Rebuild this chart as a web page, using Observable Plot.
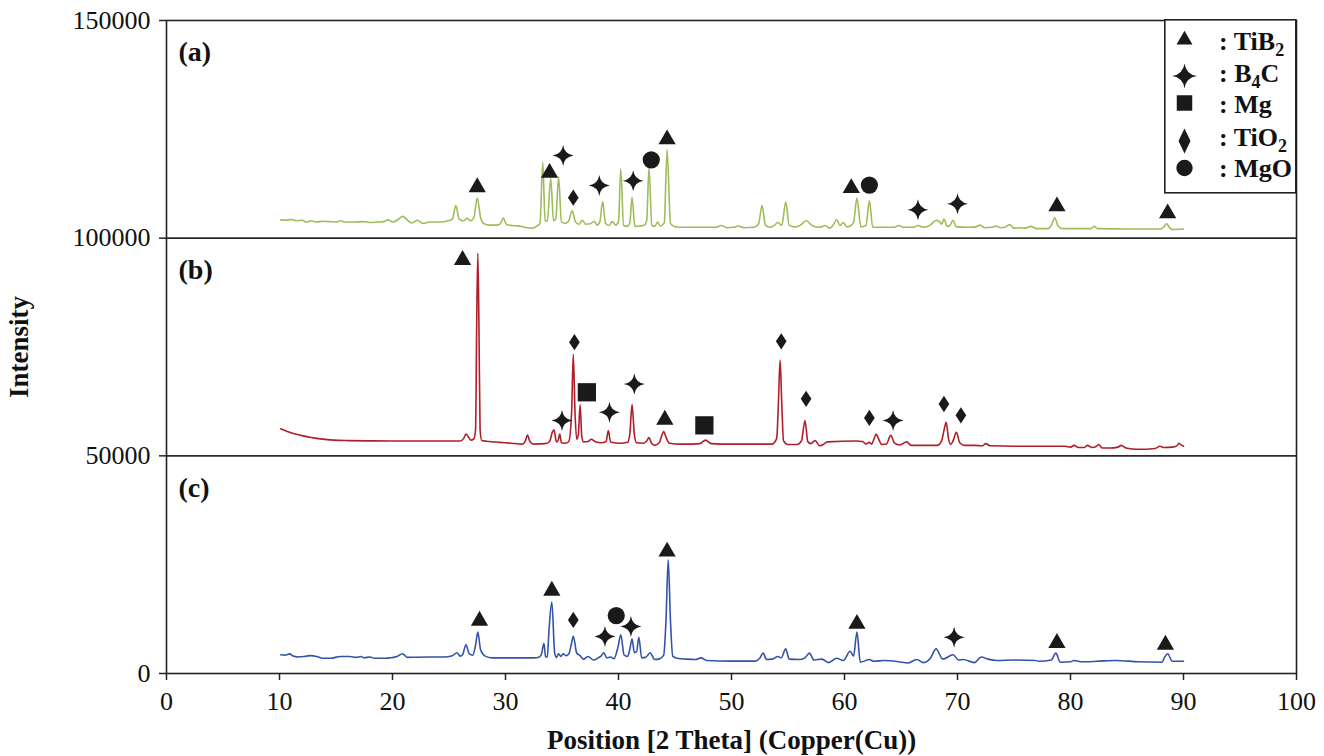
<!DOCTYPE html>
<html>
<head>
<meta charset="utf-8">
<script src="https://cdn.jsdelivr.net/npm/d3@7"></script>
<script src="https://cdn.jsdelivr.net/npm/@observablehq/plot@0.6"></script>
<style>
  html, body { margin: 0; padding: 0; background: #fff; }
  #chart { position: relative; width: 1324px; height: 756px; }
</style>
</head>
<body>
<div id="chart"></div>
<script>
// ---- Axis ticks ----
const xTicks = [0, 10, 20, 30, 40, 50, 60, 70, 80, 90, 100];
const yTicks = [0, 50000, 100000, 150000];
const separators = [50000, 100000];

// ---- Panel labels (placed at the top of each stacked pattern band) ----
const panelNames = ["(a)", "(b)", "(c)"];
const panelTops = [150000, 100000, 50000];

// ---- XRD patterns: [2θ (deg), intensity (counts)] ----
const patternA = [
  [10.1,104200],[10.6,104100],[11.0,104300],[11.5,104000],[12.0,104100],[12.4,103700],[12.8,104000],[13.3,103700],
  [13.8,103900],[14.4,103800],[15.0,103700],[15.4,104000],[15.8,103700],[16.6,103700],[17.4,103800],[18.0,103600],
  [18.6,103700],[19.2,103800],[19.6,104200],[20.0,103700],[20.5,104300],[20.9,105000],[21.3,104200],[21.7,103500],
  [22.2,104100],[22.7,103400],[23.3,103700],[24.2,103700],[24.9,104000],[25.3,104400],[25.6,107500],[25.9,104400],
  [26.3,104000],[26.6,104600],[26.9,104000],[27.2,104700],[27.5,109200],[27.8,104700],[28.1,103300],[28.6,103000],
  [29.2,103000],[29.5,103200],[29.8,104600],[30.1,103100],[30.6,102900],[31.4,102700],[31.9,102400],[32.4,102300],
  [32.8,102800],[33.05,103400],[33.3,117400],[33.5,104000],[33.7,103900],[34.0,113700],[34.25,104000],[34.45,104500],
  [34.7,114000],[34.95,103700],[35.3,103400],[35.6,104000],[35.9,106300],[36.2,103700],[36.5,103200],[36.8,104100],
  [37.1,103200],[37.5,103300],[37.85,103900],[38.1,103000],[38.35,103800],[38.6,108400],[38.85,103400],[39.15,102900],
  [39.45,103800],[39.75,103000],[40.0,103800],[40.2,115900],[40.45,102900],[40.75,102700],[41.0,103500],[41.2,109400],
  [41.45,102700],[41.9,102800],[42.3,103000],[42.5,104200],[42.7,116300],[42.95,103000],[43.2,102700],[43.45,103700],
  [43.7,102800],[44.05,103500],[44.3,120300],[44.6,103400],[44.95,102700],[45.6,102500],[47.0,102500],[48.6,102500],
  [49.1,102900],[49.6,102400],[50.2,102500],[50.6,102800],[51.1,102400],[52.0,102500],[52.4,103300],[52.7,107500],
  [53.0,103000],[53.4,102500],[53.8,103000],[54.1,103600],[54.45,102900],[54.8,108300],[55.1,103000],[55.6,102600],
  [56.1,103000],[56.6,104000],[57.2,102800],[57.8,102500],[58.3,102900],[58.7,102300],[59.0,103000],[59.3,104300],
  [59.6,102900],[59.9,103600],[60.2,102600],[60.5,102800],[60.8,103600],[61.1,109200],[61.45,102600],[61.9,102900],
  [62.2,108600],[62.5,102500],[63.5,102500],[64.4,102500],[64.8,102900],[65.2,102500],[66.1,102500],[66.5,102900],
  [67.0,102500],[67.6,103000],[68.1,104100],[68.45,103700],[68.6,103200],[68.8,104400],[69.1,102700],[69.35,103000],
  [69.6,104100],[69.9,102600],[71.0,102500],[71.6,102600],[72.0,103000],[72.4,102400],[73.0,102500],[73.4,102800],
  [73.8,102400],[74.2,102500],[74.6,103100],[75.0,102300],[75.5,102400],[76.0,102300],[76.5,102700],[77.0,102200],
  [78.0,102200],[78.3,102900],[78.6,104700],[78.9,102800],[79.3,102200],[81.0,102200],[81.8,102200],[82.1,102700],
  [82.4,102200],[85.0,102100],[88.0,102100],[88.25,102600],[88.5,103300],[88.75,102500],[89.0,102000],[90.0,102100]
];

const patternB = [
  [10.1,56200],[11.0,55300],[11.9,54700],[12.8,54200],[13.6,53900],[14.8,53600],[16.0,53500],[20.0,53400],
  [24.0,53400],[26.0,53400],[26.3,54000],[26.5,55000],[26.75,54200],[26.95,53600],[27.2,53900],[27.35,56000],
  [27.45,80000],[27.55,96500],[27.65,80000],[27.75,56000],[27.9,53500],[28.5,53300],[29.5,53100],[30.5,52900],
  [31.5,52700],[31.75,53400],[31.95,54800],[32.15,53300],[32.5,52700],[33.5,52800],[33.9,53300],[34.15,55500],
  [34.3,56000],[34.5,53200],[34.65,53500],[34.8,55000],[34.95,53000],[35.3,52900],[35.6,53300],[35.85,60000],
  [36.0,73300],[36.15,60000],[36.3,53800],[36.45,55000],[36.6,61700],[36.75,54500],[36.9,53200],[37.3,53300],
  [37.6,53800],[37.9,53300],[38.5,53000],[38.9,53300],[39.1,55800],[39.3,53200],[40.2,52900],[40.8,53100],
  [41.0,55000],[41.2,61800],[41.4,55000],[41.6,53000],[42.2,52900],[42.5,53400],[42.7,54200],[42.9,53000],
  [43.2,52400],[43.6,53000],[43.85,54800],[44.0,55600],[44.2,54300],[44.5,52900],[45.5,52700],[46.5,52700],
  [47.2,52800],[47.7,53600],[48.2,52800],[49.0,52700],[52.0,52700],[53.6,52700],[54.0,54000],[54.15,62000],
  [54.3,72000],[54.45,62000],[54.6,53500],[55.0,52600],[55.8,52600],[56.2,53500],[56.5,58100],[56.75,53300],
  [57.0,52800],[57.4,53500],[57.8,52300],[58.1,52600],[58.5,53200],[61.0,53400],[61.6,53300],[61.9,52700],
  [62.2,53100],[62.4,52700],[62.6,53800],[62.8,55000],[63.0,54000],[63.3,52600],[63.7,52700],[64.1,54700],
  [64.4,53000],[64.9,52500],[65.5,53200],[65.9,52400],[67.0,52400],[68.2,52400],[68.6,53500],[68.8,55800],
  [69.0,57700],[69.2,54000],[69.4,52600],[69.6,53400],[69.9,55400],[70.2,53000],[70.6,52400],[71.5,52400],
  [72.2,52300],[72.5,52800],[72.9,52300],[75.0,52200],[78.0,52200],[79.5,52200],[80.0,52000],[80.3,52400],
  [80.7,51900],[81.2,51900],[81.5,52400],[81.9,51900],[82.3,52200],[82.5,52600],[82.8,51800],[83.5,51800],
  [84.2,52000],[84.5,52400],[84.9,51800],[86.0,51500],[87.5,51700],[87.9,52200],[88.3,51900],[89.0,52000],
  [89.4,52300],[89.6,52900],[89.8,52500],[90.0,52200]
];

const patternC = [
  [10.1,4300],[10.5,4200],[10.9,4500],[11.2,4000],[11.6,3800],[12.2,3900],[12.7,4100],[13.3,3900],
  [13.8,3500],[14.5,3500],[15.4,3900],[16.2,3900],[16.8,3700],[17.2,3900],[17.5,3600],[18.0,3800],
  [18.4,3500],[19.4,3500],[19.8,3600],[20.4,3900],[20.9,4550],[21.3,3700],[22.0,3750],[24.5,3800],
  [25.3,4100],[25.7,4750],[26.0,4000],[26.2,4300],[26.5,6600],[26.8,4500],[27.1,4200],[27.35,6500],
  [27.55,9500],[27.8,5400],[28.2,4000],[28.8,3600],[32.5,3600],[33.0,3800],[33.2,4600],[33.4,6960],
  [33.55,3800],[33.7,3800],[33.85,10000],[34.1,16400],[34.35,4800],[34.5,3700],[34.7,4500],[34.9,3900],
  [35.1,4500],[35.35,4100],[35.6,4500],[35.85,7000],[36.0,8570],[36.3,4700],[36.6,4100],[36.9,3300],
  [37.3,3900],[37.8,3100],[38.2,3600],[38.45,4000],[38.7,4750],[38.95,3600],[39.3,3800],[39.6,3400],
  [39.95,6000],[40.2,8890],[40.5,4200],[40.8,3900],[41.0,5500],[41.2,7970],[41.4,4800],[41.6,5000],
  [41.8,8340],[42.05,3600],[42.4,3700],[42.8,4750],[43.2,3200],[43.6,3300],[44.0,4200],[44.2,12000],
  [44.4,26100],[44.6,12000],[44.8,4000],[45.2,3500],[46.0,3300],[46.8,3200],[47.3,3600],[47.8,3000],
  [50.0,2850],[52.1,2850],[52.5,3500],[52.8,4670],[53.1,3200],[53.6,3300],[54.1,3900],[54.4,3600],
  [54.8,5660],[55.1,3300],[56.0,3200],[56.5,3600],[56.9,4670],[57.3,3100],[58.0,3300],[58.6,2500],
  [59.3,3500],[59.9,3000],[60.5,5100],[60.8,4000],[61.1,9500],[61.4,2600],[62.2,3200],[62.6,2800],
  [63.5,3000],[64.8,2700],[65.6,2400],[66.4,3200],[67.0,2500],[67.6,3500],[68.1,5660],[68.7,3300],
  [69.6,4300],[70.1,3100],[70.5,3200],[71.5,2500],[72.1,3800],[72.7,3300],[73.5,3000],[75.0,3100],
  [76.9,3000],[77.2,2800],[78.3,3100],[78.7,4670],[79.1,2600],[80.0,2700],[80.3,3000],[80.9,2700],
  [82.3,2800],[84.0,3000],[86.0,2700],[88.1,2600],[88.3,3600],[88.6,4520],[89.0,2800],[90.0,2800]
];

// ---- Phase identification markers: [2θ, marker height] ----
const tib2Peaks = [
  [27.5,111700],[33.9,115000],[44.3,122700],[60.6,111500],[78.8,107300],[88.6,105700],
  [26.2,95000],[44.1,58300],
  [27.7,12100],[34.1,19000],[44.3,28000],[61.1,11400],[78.8,7000],[88.4,6600]
];
const b4cPeaks = [
  [35.1,119000],[38.3,112100],[41.3,113200],[66.5,106500],[70.0,107900],
  [35.0,58100],[39.2,60000],[41.4,66500],[64.3,58100],
  [38.8,8500],[41.1,10800],[69.7,8340]
];
const mgPeaks = [[37.2,64600],[47.6,57000]];
const tio2Peaks = [
  [36.0,109300],
  [36.1,76100],[54.4,76300],[56.6,63100],[62.2,58700],[68.8,61900],[70.3,59300],
  [36.0,12300]
];
const mgoPeaks = [[42.9,118000],[62.2,112200],[39.8,13300]];

// ---- Legend ----
const legendLabels = ["TiB_2", "B_4C", "Mg", "TiO_2", "MgO"];

// ---- Colours ----
const colorA = "#9dbd5a";
const colorB = "#b01e2a";
const colorC = "#3353a8";
const ink = "#1a1a1a";

// Four-pointed star with concave sides
const star4 = {
  draw(ctx, size) {
    const R = Math.sqrt(size / Math.PI);
    const k = 0.12 * R;
    ctx.moveTo(0, -R);
    ctx.quadraticCurveTo(k, -k, R, 0);
    ctx.quadraticCurveTo(k, k, 0, R);
    ctx.quadraticCurveTo(-k, k, -R, 0);
    ctx.quadraticCurveTo(-k, -k, 0, -R);
    ctx.closePath();
  }
};
// Tall rhombus
const rhombus = {
  draw(ctx, size) {
    const r = Math.sqrt(size / Math.PI);
    const hh = 1.6 * r, hw = 1.05 * r;
    ctx.moveTo(0, -hh);
    ctx.lineTo(hw, 0);
    ctx.lineTo(0, hh);
    ctx.lineTo(-hw, 0);
    ctx.closePath();
  }
};

const px = d => d[0], py = d => d[1];
const lineOpts = c => ({x: px, y: py, stroke: c, strokeWidth: 1.6, curve: "monotone-x", strokeLinejoin: "round"});

const serif = "'Liberation Serif', 'Times New Roman', serif";

const plot = Plot.plot({
  width: 1324,
  height: 756,
  marginLeft: 166,
  marginRight: 28,
  marginTop: 20,
  marginBottom: 83,
  style: {fontFamily: serif, fontSize: "26px", color: "#111", background: "#fff"},
  x: {domain: [0, 100]},
  y: {domain: [0, 150000]},
  marks: [
    Plot.axisX({ticks: xTicks, tickSize: 7, tickPadding: 11, label: null, strokeWidth: 1.5, stroke: "#222"}),
    Plot.axisY({ticks: yTicks, tickSize: 7, tickPadding: 9, tickFormat: "d", label: null, strokeWidth: 1.5, stroke: "#222"}),
    Plot.ruleY(separators, {stroke: "#2a2a2a", strokeWidth: 1.6}),
    Plot.frame({stroke: "#222", strokeWidth: 1.6}),
    Plot.line(patternA, lineOpts(colorA)),
    Plot.line(patternB, lineOpts(colorB)),
    Plot.line(patternC, lineOpts(colorC)),
    Plot.dot(tib2Peaks, {x: px, y: py, symbol: "triangle", r: 6.4, fill: ink}),
    Plot.dot(b4cPeaks, {x: px, y: py, symbol: star4, r: 10.5, fill: ink}),
    Plot.dot(mgPeaks, {x: px, y: py, symbol: "square", r: 10.3, fill: ink}),
    Plot.dot(tio2Peaks, {x: px, y: py, symbol: rhombus, r: 5.1, fill: ink}),
    Plot.dot(mgoPeaks, {x: px, y: py, symbol: "circle", r: 8.6, fill: ink}),
    Plot.text(panelNames, {y: panelTops, text: d => d, frameAnchor: "left", textAnchor: "start",
      lineAnchor: "middle", dx: 12, dy: 32, fontWeight: "bold", fontSize: 28, fill: "#111"}),
    Plot.text(["Position [2 Theta] (Copper(Cu))"], {text: d => d, frameAnchor: "bottom",
      textAnchor: "middle", lineAnchor: "middle", dy: 67,
      fontWeight: "bold", fontSize: 27, fill: "#111"}),
    Plot.text(["Intensity"], {text: d => d, frameAnchor: "left", textAnchor: "middle",
      lineAnchor: "middle", dx: -147, rotate: -90,
      fontWeight: "bold", fontSize: 27, fill: "#111"})
  ]
});

const chart = document.getElementById("chart");
chart.appendChild(plot);

// Legend box in the top-right corner of the frame
const legendSymbols = [d3.symbolTriangle, star4, d3.symbolSquare, null, d3.symbolCircle];
const legendSizes = [110, Math.PI * 12.5 * 12.5, 240, 0, 210];
const symbolY = [40, 76, 103, 141, 168];
const textY = [50, 82, 113, 146, 177];
const boxLeft = 1164, boxTop = 19;

const leg = d3.create("svg")
  .attr("width", 134).attr("height", 178)
  .style("position", "absolute").style("left", boxLeft + "px").style("top", boxTop + "px")
  .style("overflow", "visible");
leg.append("rect")
  .attr("x", 0.8).attr("y", 0.8).attr("width", 131).attr("height", 173)
  .attr("fill", "#fff").attr("stroke", "#222").attr("stroke-width", 1.6);

legendLabels.forEach((lab, i) => {
  const cx = 1184.5 - boxLeft, cy = symbolY[i] - boxTop;
  if (legendSymbols[i]) {
    leg.append("path")
      .attr("transform", `translate(${cx},${cy})`)
      .attr("d", d3.symbol(legendSymbols[i], legendSizes[i])())
      .attr("fill", ink);
  } else {
    leg.append("path")
      .attr("transform", `translate(${cx},${cy})`)
      .attr("d", "M0,-12.5L6,0L0,12.5L-6,0Z")
      .attr("fill", ink);
  }
  const t = leg.append("text")
    .attr("x", 1219 - boxLeft).attr("y", textY[i] - boxTop)
    .attr("font-family", serif).attr("font-weight", "bold").attr("font-size", 26).attr("fill", "#111");
  t.append("tspan").text(": ");
  // "_" marks the following digit as a subscript
  const parts = lab.split(/_(\d)/);
  let lowered = false;
  parts.forEach((p, j) => {
    if (!p) return;
    const isSub = j % 2 === 1;
    const s = t.append("tspan").text(p);
    if (isSub) { s.attr("dy", 6).attr("font-size", 18); lowered = true; }
    else if (lowered) { s.attr("dy", -6); lowered = false; }
  });
});
chart.appendChild(leg.node());
</script>
</body>
</html>
